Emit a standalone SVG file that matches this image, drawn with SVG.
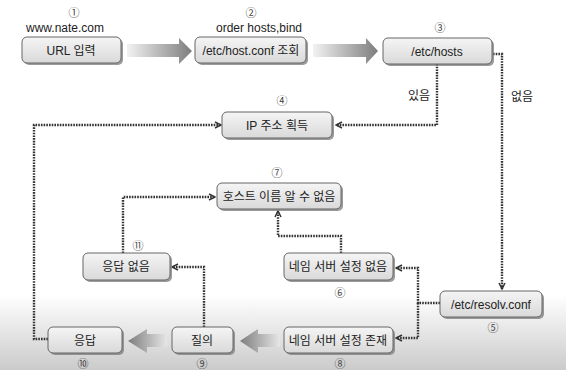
<svg xmlns="http://www.w3.org/2000/svg" width="566" height="370" viewBox="0 0 566 370">
<defs>
<linearGradient id="bg" x1="0" y1="0" x2="0" y2="1"><stop offset="0" stop-color="#ffffff"/><stop offset="1" stop-color="#cbcbcb"/></linearGradient>
<linearGradient id="box" x1="0" y1="0" x2="0" y2="1"><stop offset="0" stop-color="#f5f5f5"/><stop offset="1" stop-color="#d9d9d9"/></linearGradient>
<linearGradient id="arR" x1="0" y1="0" x2="1" y2="0"><stop offset="0" stop-color="#f2f2f2"/><stop offset="1" stop-color="#7d7d7d"/></linearGradient>
<linearGradient id="arL" x1="0" y1="0" x2="1" y2="0"><stop offset="0" stop-color="#7d7d7d"/><stop offset="1" stop-color="#e6e6e6"/></linearGradient>
<marker id="ah" viewBox="0 0 8 8" refX="7" refY="4" markerWidth="8" markerHeight="8" markerUnits="userSpaceOnUse" orient="auto"><path d="M1,1 L7,4 L1,7" fill="none" stroke="#333" stroke-width="1.5"/></marker>
</defs>
<style>
.sh{fill:#7a7a7a;opacity:.75}
.bx{fill:url(#box);stroke:#666;stroke-width:1}
.t{font-family:"Liberation Sans","Noto Sans CJK KR",sans-serif;font-size:12px;fill:#222;text-anchor:middle}
.n{font-family:"Noto Sans CJK KR",sans-serif;font-size:11px;fill:#444;text-anchor:middle;dominant-baseline:central}
.c{fill:none;stroke:#333;stroke-width:2.4;stroke-dasharray:1.6 1.1}
</style>
<rect x="0" y="0" width="566" height="370" fill="#fff"/>
<rect x="0" y="295" width="566" height="75" fill="url(#bg)"/>

<g id="arrows-big">
<polygon points="127,44 179,44 179,38 192,51 179,64 179,57 127,57" fill="url(#arR)"/>
<polygon points="313,44 366,44 366,38 378,51 366,64 366,57 313,57" fill="url(#arR)"/>
<polygon points="128,341 147,329 147,334 167,334 167,347 147,347 147,353" fill="url(#arL)"/>
<polygon points="240,341 258,329 258,334 280,334 280,347 258,347 258,353" fill="url(#arL)"/>
</g>

<g id="connectors">
<path class="c" d="M437,64 V125 H336" marker-end="url(#ah)"/>
<path class="c" d="M493,54 H502 V289" marker-end="url(#ah)"/>
<path class="c" d="M48,339 H34 V125 H221" marker-end="url(#ah)"/>
<path class="c" d="M440,303 H418 V268 H396" marker-end="url(#ah)"/>
<path class="c" d="M418,303 V338 H396" marker-end="url(#ah)"/>
<path class="c" d="M341,253 V236 H278 V211" marker-end="url(#ah)"/>
<path class="c" d="M123,253 V197 H215" marker-end="url(#ah)"/>
<path class="c" d="M204,327 V267 H172" marker-end="url(#ah)"/>
<text class="t" x="419" y="100">있음</text>
<text class="t" x="522" y="101">없음</text>
</g>

<g id="n1">
<rect class="sh" x="24" y="39" width="99" height="26" rx="5"/>
<rect class="bx" x="22" y="37" width="99" height="26" rx="5"/>
<text class="t" x="71" y="55">URL 입력</text>
<text class="n" x="74" y="12">①</text>
<text class="t" x="65" y="32">www.nate.com</text>
</g>
<g id="n2">
<rect class="sh" x="197" y="39" width="111" height="26" rx="5"/>
<rect class="bx" x="195" y="37" width="111" height="26" rx="5"/>
<text class="t" x="251" y="55">/etc/host.conf 조회</text>
<text class="n" x="251" y="12">②</text>
<text class="t" x="259" y="32">order hosts,bind</text>
</g>
<g id="n3">
<rect class="sh" x="385" y="40" width="109" height="26" rx="5"/>
<rect class="bx" x="383" y="38" width="109" height="26" rx="5"/>
<text class="t" x="437" y="56">/etc/hosts</text>
<text class="n" x="440" y="27">③</text>
</g>
<g id="n4">
<rect class="sh" x="224" y="114" width="110" height="26" rx="5"/>
<rect class="bx" x="222" y="112" width="110" height="26" rx="5"/>
<text class="t" x="277" y="130">IP 주소 획득</text>
<text class="n" x="282" y="100">④</text>
</g>
<g id="n5">
<rect class="sh" x="442" y="293" width="102" height="26" rx="5"/>
<rect class="bx" x="440" y="291" width="102" height="26" rx="5"/>
<text class="t" x="491" y="309">/etc/resolv.conf</text>
<text class="n" x="493" y="327">⑤</text>
</g>
<g id="n6">
<rect class="sh" x="286" y="255" width="109" height="27" rx="5"/>
<rect class="bx" x="284" y="253" width="109" height="27" rx="5"/>
<text class="t" x="338" y="271">네임 서버 설정 없음</text>
<text class="n" x="340" y="292">⑥</text>
</g>
<g id="n7">
<rect class="sh" x="219" y="185" width="124" height="26" rx="5"/>
<rect class="bx" x="217" y="183" width="124" height="26" rx="5"/>
<text class="t" x="279" y="201">호스트 이름 알 수 없음</text>
<text class="n" x="277" y="172">⑦</text>
</g>
<g id="n8">
<rect class="sh" x="286" y="329" width="109" height="26" rx="5"/>
<rect class="bx" x="284" y="327" width="109" height="26" rx="5"/>
<text class="t" x="338" y="345">네임 서버 설정 존재</text>
<text class="n" x="340" y="363">⑧</text>
</g>
<g id="n9">
<rect class="sh" x="174" y="329" width="61" height="26" rx="5"/>
<rect class="bx" x="172" y="327" width="61" height="26" rx="5"/>
<text class="t" x="202" y="345">질의</text>
<text class="n" x="202" y="363">⑨</text>
</g>
<g id="n10">
<rect class="sh" x="50" y="329" width="74" height="26" rx="5"/>
<rect class="bx" x="48" y="327" width="74" height="26" rx="5"/>
<text class="t" x="85" y="345">응답</text>
<text class="n" x="83" y="363">⑩</text>
</g>
<g id="n11">
<rect class="sh" x="85" y="255" width="87" height="27" rx="5"/>
<rect class="bx" x="83" y="253" width="87" height="27" rx="5"/>
<text class="t" x="126" y="271">응답 없음</text>
<text class="n" x="138" y="245">⑪</text>
</g>
</svg>
